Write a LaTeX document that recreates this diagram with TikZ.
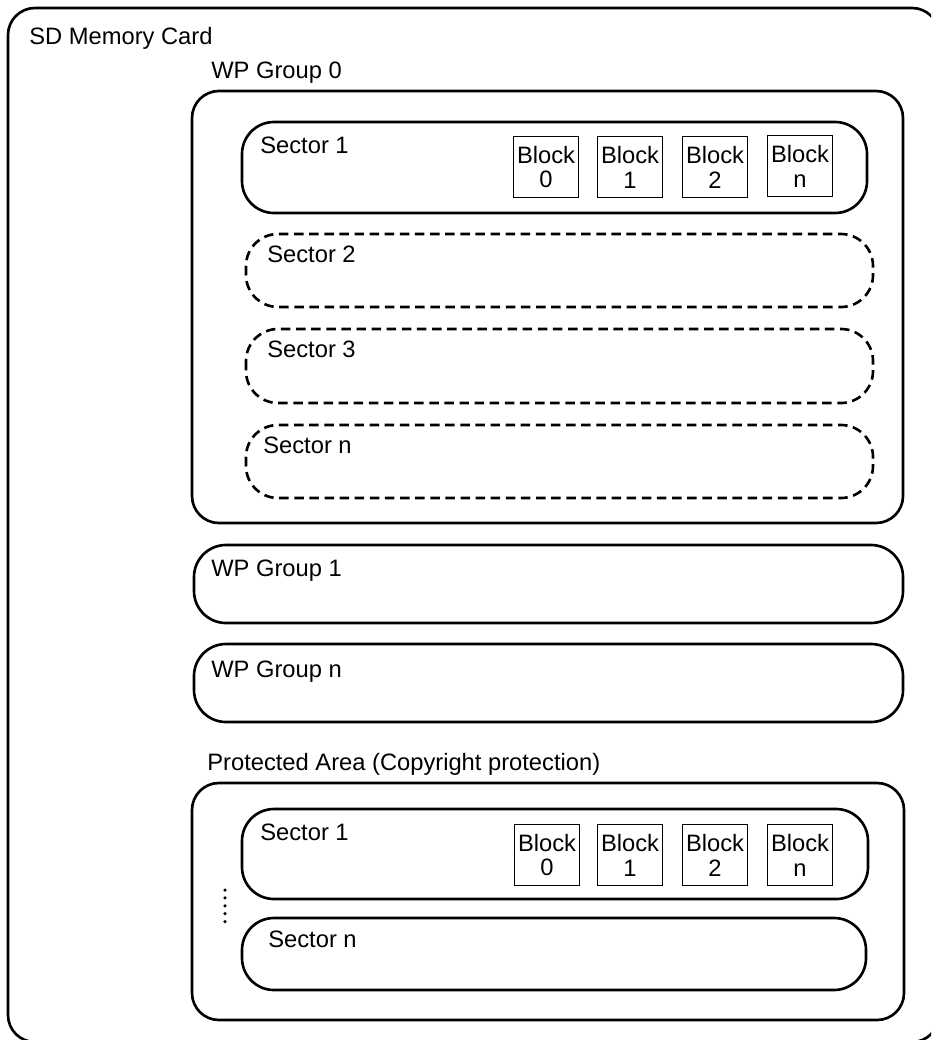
\documentclass[tikz,border=0pt]{standalone}
\usepackage{fontspec}
\setmainfont{Liberation Sans}

\tikzset{
  card/.style={draw, line width=1.5pt, rounded corners=0.54cm},
  sectorbox/.style={draw, line width=1.5pt, rounded corners=0.64cm},
  emptysector/.style={sectorbox, dash pattern=on 5.4pt off 3.2pt},
  blockbox/.style={draw, line width=1.1pt, minimum width=1.3cm, minimum height=1.22cm, inner sep=0pt, align=center},
  lbl/.style={anchor=base west, inner sep=0pt}
}

\begin{document}
\begin{tikzpicture}[x=0.02cm, y=-0.02cm, font=\fontsize{13.5pt}{14.2pt}\selectfont]
\useasboundingbox (0,0) rectangle (931,1040);
\clip (0,0) rectangle (931,1040);

% card
\draw[card] (8,8) rectangle (939,1042);
\node[lbl](cardlbl) at (29,45){SD Memory Card};

% WP group 0
\node[lbl](wp0lbl) at (211,79){WP Group 0};
\draw[card] (192,91) rectangle (903,523);
\draw[sectorbox] (242,122) rectangle (867,213);
\node[lbl](s1lbl) at (260,154){Sector 1};
\node[blockbox](b0) at (546,167){Block\\0};
\node[blockbox](b1) at (630,167){Block\\1};
\node[blockbox](b2) at (715,167){Block\\2};
\node[blockbox](bn) at (800,166){Block\\n};
\draw[emptysector] (246,234) rectangle (873,307);
\node[lbl](s2lbl) at (267,263){Sector 2};
\draw[emptysector] (246,329) rectangle (873,403);
\node[lbl](s3lbl) at (267,357){Sector 3};
\draw[emptysector] (246,425) rectangle (873,498);
\node[lbl](snlbl) at (263,453){Sector n};

% WP group 1 and n
\draw[sectorbox] (194,545) rectangle (903,623);
\node[lbl](wp1lbl) at (211,576){WP Group 1};
\draw[sectorbox] (194,644) rectangle (903,722);
\node[lbl](wpnlbl) at (211,677){WP Group n};

% protected area
\node[lbl](palbl) at (207,770){Protected Area (Copyright protection)};
\draw[card] (192,783) rectangle (904,1020);
\draw[sectorbox] (242,809) rectangle (868,899);
\node[lbl](ps1lbl) at (260,840){Sector 1};
\node[blockbox](pb0) at (547,855){Block\\0};
\node[blockbox](pb1) at (630,855){Block\\1};
\node[blockbox](pb2) at (715,855){Block\\2};
\node[blockbox](pbn) at (800,855){Block\\n};
\draw[sectorbox] (242,918) rectangle (866,990);
\node[lbl](psnlbl) at (268,947){Sector n};

\coordinate (dottop) at (225,890);
\coordinate (dotbot) at (225,923);
\draw[line width=2pt, line cap=round, dash pattern=on 0pt off 4.5pt] (dottop) -- (dotbot);
\end{tikzpicture}
\end{document}
